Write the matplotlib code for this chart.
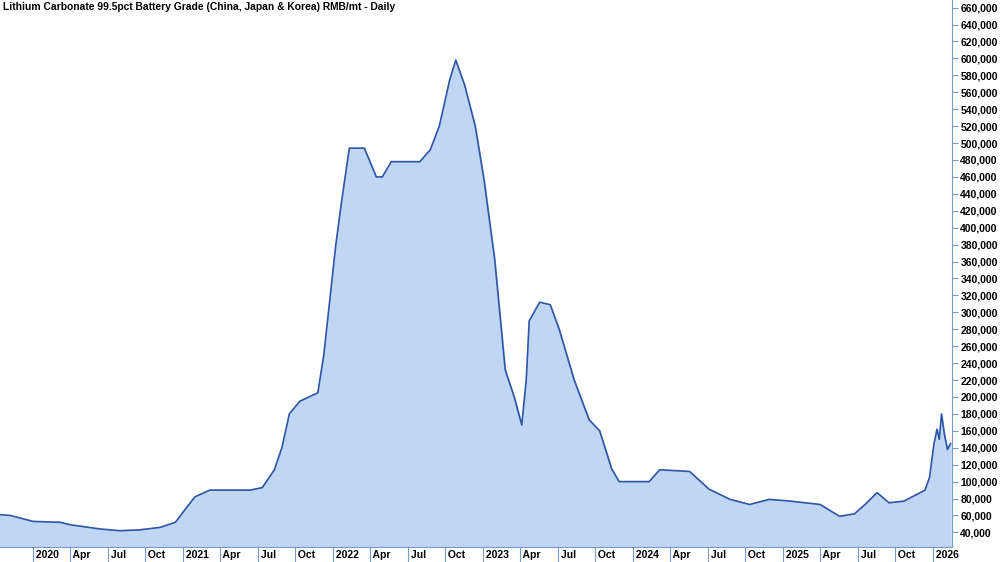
import numpy as np
import matplotlib.pyplot as plt
from matplotlib.ticker import FuncFormatter

plt.rcParams['font.family'] = ['Liberation Sans', 'DejaVu Sans']

# time as decimal years, price in RMB/mt
years = [2019.78, 2019.85, 2020.0, 2020.18, 2020.25, 2020.45, 2020.58, 2020.71, 2020.85, 2020.95,
         2021.01, 2021.08, 2021.18, 2021.45, 2021.53, 2021.61, 2021.66, 2021.71, 2021.78, 2021.9,
         2021.94, 2021.98, 2022.02, 2022.06, 2022.11, 2022.21, 2022.29, 2022.33, 2022.39, 2022.58,
         2022.65, 2022.71, 2022.78, 2022.82, 2022.88, 2022.95, 2023.01, 2023.08, 2023.15, 2023.21,
         2023.26, 2023.29, 2023.31, 2023.38, 2023.45, 2023.51, 2023.61, 2023.71, 2023.78, 2023.86,
         2023.91, 2024.11, 2024.18, 2024.38, 2024.51, 2024.65, 2024.78, 2024.91, 2025.05, 2025.25,
         2025.38, 2025.48, 2025.55, 2025.63, 2025.71, 2025.81, 2025.95, 2025.98, 2026.01, 2026.03,
         2026.045, 2026.06, 2026.08, 2026.1, 2026.12]
prices = [61000, 60000, 53000, 52000, 49000, 44000, 42000, 43000, 46000, 52000,
          66000, 82000, 90000, 90000, 93000, 114000, 140000, 180000, 195000, 205000,
          250000, 315000, 380000, 433000, 494000, 494000, 460000, 460000, 478000, 478000,
          492000, 520000, 575000, 598000, 568000, 520000, 455000, 362000, 232000, 200000,
          167000, 220000, 290000, 312000, 309000, 280000, 220000, 173000, 160000, 115000,
          100000, 100000, 114000, 112000, 91000, 79000, 73000, 79000, 77000, 73000,
          59000, 62000, 73000, 87000, 75000, 77000, 90000, 105000, 145000, 162000,
          150000, 180000, 155000, 138000, 145000]

year_labels = [2020, 2021, 2022, 2023, 2024, 2025, 2026]
month_names = ['Apr', 'Jul', 'Oct']

fig = plt.figure(figsize=(10, 5.62), dpi=100)
ax = fig.add_axes([0, 0.026, 0.952, 0.974])

line_color = '#2f55a4'
ax.fill_between(years, prices, 0, color='#bfd6f4')
ax.plot(years, prices, color=line_color, lw=1.2)

ax.set_xlim(2019.78, 2026.13)
ax.set_ylim(22300, 669000)

ax.yaxis.tick_right()
ax.set_yticks(np.arange(40000, 660001, 20000))
ax.yaxis.set_major_formatter(FuncFormatter(lambda v, p: f'{int(v):,}'))
for s in ['top', 'left']:
    ax.spines[s].set_visible(False)
ax.spines['right'].set_color('#7a9ad0')
ax.spines['bottom'].set_color('#7a9ad0')
ax.tick_params(axis='y', colors='#7a9ad0', labelcolor='black', labelsize=7.5, length=4, pad=2)
ax.tick_params(axis='x', colors='#7a9ad0', labelcolor='black', labelsize=7.5, length=12, pad=-10)
for t in ax.get_yticklabels():
    t.set_fontweight('bold')

ticks, labels = [], []
for y in year_labels:
    ticks.append(y)
    labels.append(' ' + str(y))
    if y < 2026:
        for i, m in enumerate(month_names):
            ticks.append(y + 0.25 * (i + 1))
            labels.append(' ' + m)
ax.set_xticks(ticks)
ax.set_xticklabels(labels, fontweight='bold', ha='left')

ax.text(0.003, 0.997, 'Lithium Carbonate 99.5pct Battery Grade (China, Japan & Korea) RMB/mt - Daily',
        transform=ax.transAxes, ha='left', va='top', fontsize=7.4, fontweight='bold')

fig.savefig('out.png', dpi=100)
